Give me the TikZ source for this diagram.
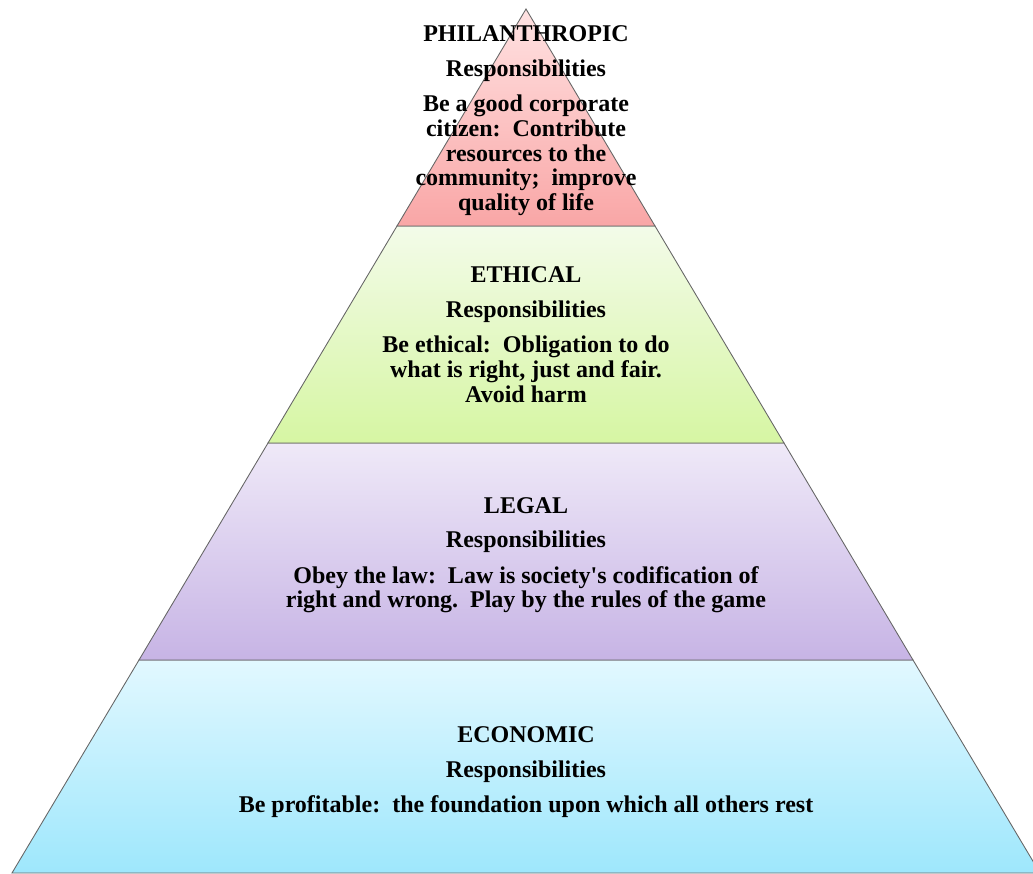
\documentclass[tikz,border=0pt]{standalone}
\usepackage{fontspec}
\setmainfont{Liberation Serif}[Ligatures=TeXOff]
\usepackage{tikz}
\usetikzlibrary{positioning}
\definecolor{philtop}{RGB}{255,226,226}
\definecolor{philbot}{RGB}{249,166,166}
\definecolor{ethtop}{RGB}{243,251,233}
\definecolor{ethbot}{RGB}{214,246,163}
\definecolor{legtop}{RGB}{239,233,248}
\definecolor{legbot}{RGB}{199,180,229}
\definecolor{ecotop}{RGB}{226,248,255}
\definecolor{ecobot}{RGB}{158,231,252}

\begin{document}
\begin{tikzpicture}[x=0.02cm,y=0.02cm,
	every node/.style={inner sep=0pt,font=\fontsize{13.66pt}{14pt}\selectfont\bfseries},
	title node/.style={anchor=base},
	body node/.style={align=center},
	level/.style={draw=black!60,line width=0.5pt}]

	\useasboundingbox (0,0) rectangle (1033,873);

	% corners of the levels
	\coordinate (apex) at (526,864);
	\coordinate (l1) at (397,647);
	\coordinate (r1) at (655,647);
	\coordinate (l2) at (268,430);
	\coordinate (r2) at (784,430);
	\coordinate (l3) at (139,213);
	\coordinate (r3) at (913,213);
	\coordinate (l4) at (12,0);
	\coordinate (r4) at (1040,0);

	\shadedraw[level,top color=ecotop,bottom color=ecobot] (l3) -- (r3) -- (r4) -- (l4) -- cycle;
	\shadedraw[level,top color=legtop,bottom color=legbot] (l2) -- (r2) -- (r3) -- (l3) -- cycle;
	\shadedraw[level,top color=ethtop,bottom color=ethbot] (l1) -- (r1) -- (r2) -- (l2) -- cycle;
	\shadedraw[level,top color=philtop,bottom color=philbot] (apex) -- (r1) -- (l1) -- cycle;

	\node[title node] (phil) at (526,831) {PHILANTHROPIC};
	\node (philresp) [below=0.7cm of phil.base, anchor=base] {Responsibilities};
	\node[body node] (philtext) [below=0.25cm of philresp] {Be a good corporate\\citizen:\ \ Contribute\\resources to the\\community;\ \ improve\\quality of life};

	\node[title node] (eth) at (526,590) {ETHICAL};
	\node (ethresp) [below=0.7cm of eth.base, anchor=base] {Responsibilities};
	\node[body node] (ethtext) [below=0.25cm of ethresp] {Be ethical:\ \ Obligation to do\\what is right, just and fair.\\Avoid harm};

	\node[title node] (leg) at (526,360) {LEGAL};
	\node (legresp) [below=0.7cm of leg.base, anchor=base] {Responsibilities};
	\node[body node] (legtext) [below=0.25cm of legresp] {Obey the law:\ \ Law is society's codification of\\right and wrong.\ \ Play by the rules of the game};

	\node[title node] (eco) at (526,131) {ECONOMIC};
	\node (ecoresp) [below=0.7cm of eco.base, anchor=base] {Responsibilities};
	\node[body node] (ecotext) [below=0.25cm of ecoresp] {Be profitable:\ \ the foundation upon which all others rest};
\end{tikzpicture}
\end{document}
